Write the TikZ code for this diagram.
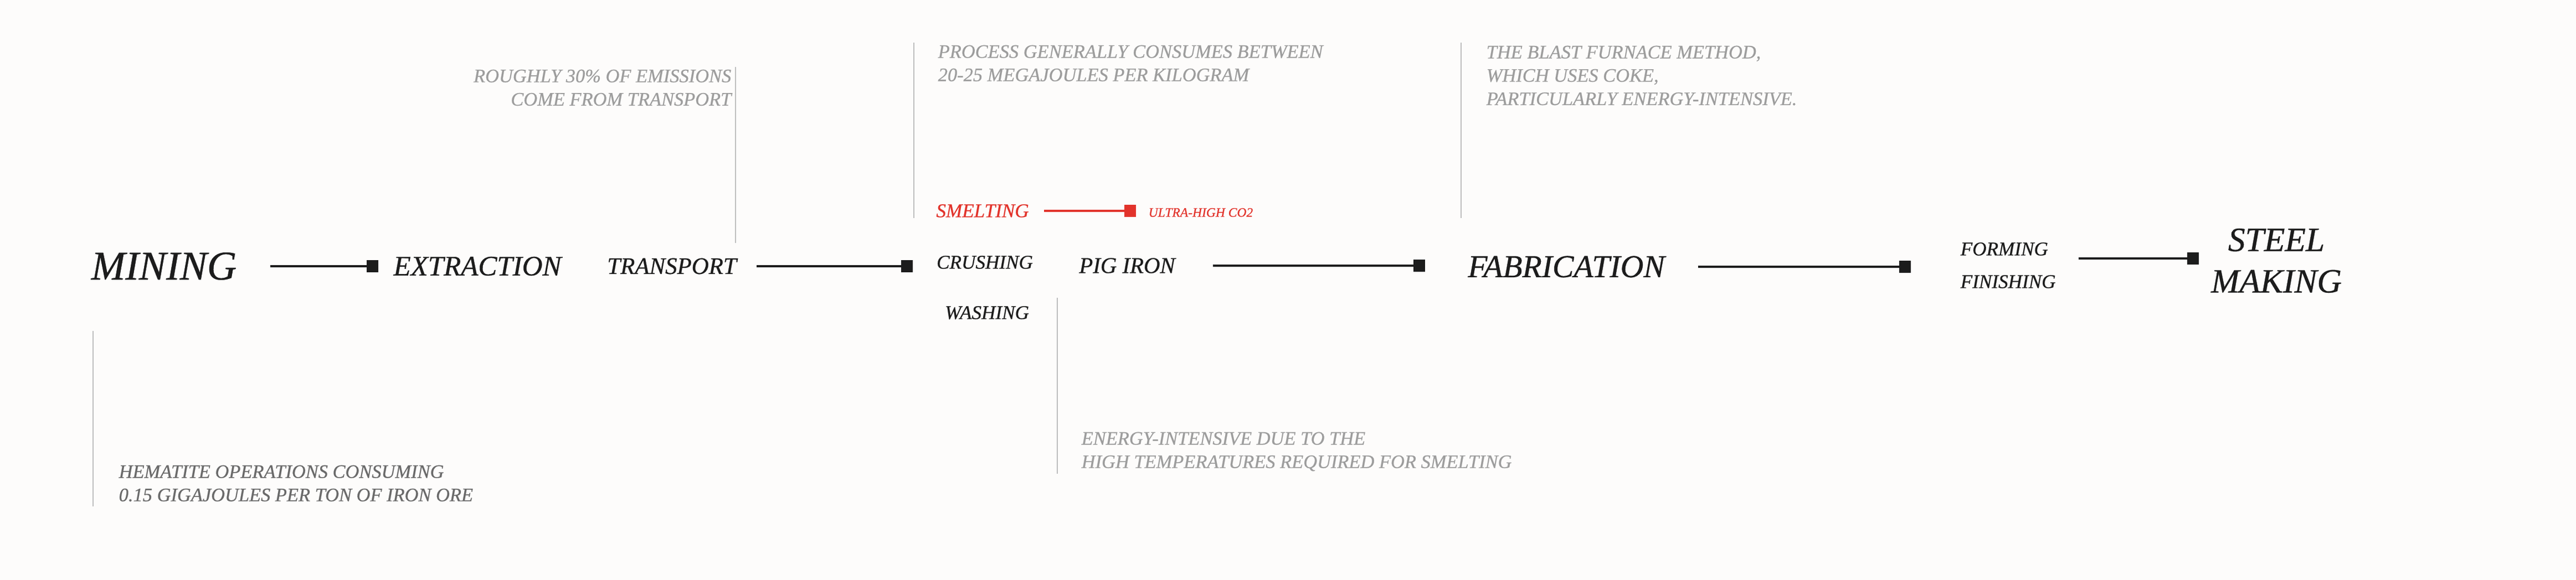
\documentclass[tikz,border=0pt]{standalone}
\usepackage{fontspec}
\setmainfont{Liberation Serif}[ItalicFeatures={FakeBold=0.6}]
\usetikzlibrary{arrows.meta,positioning,calc}
\definecolor{ink}{HTML}{1C1C1C}
\definecolor{notegray}{HTML}{9D9D9D}
\definecolor{darknote}{HTML}{6A6A6A}
\definecolor{leadgray}{HTML}{BDBDBD}
\definecolor{hotred}{HTML}{E2332B}
\definecolor{paper}{HTML}{FDFCFB}
\tikzset
{
    stage/.style = {inner sep=0pt, text=ink, font=\itshape},
    note/.style  = {inner sep=0pt, text=notegray, align=left, font=\itshape\fontsize{9.8}{12}\selectfont},
    link/.style  = {draw=ink, line width=1.2pt, -{Square[length=6pt,width=6pt]}},
    leader/.style = {draw=leadgray, line width=0.45pt}
}

\begin{document}
\begin{tikzpicture}
	\fill [paper] (0,0) rectangle (46.51,-10.48);
	\useasboundingbox (0,0) rectangle (46.51,-10.48);

	\node (mining) [stage, font=\itshape\fontsize{21}{25}\selectfont] at (2.96,-4.81) {MINING};
	\node (extraction) [stage, font=\itshape\fontsize{14.5}{17}\selectfont] at (8.62,-4.81) {EXTRACTION};
	\node (transport) [stage, font=\itshape\fontsize{12.2}{15}\selectfont] at (12.13,-4.81) {TRANSPORT};
	\node (crushing) [stage, font=\itshape\fontsize{10}{12}\selectfont] at (17.78,-4.74) {CRUSHING};
	\node (washing) [stage, font=\itshape\fontsize{10}{12}\selectfont, below=0.66cm of crushing.south, xshift=0.04cm] {WASHING};
	\node (smelting) [stage, text=hotred, font=\itshape\fontsize{10}{12}\selectfont] at (17.74,-3.81) {SMELTING};
	\node (ultra) [stage, text=hotred, font=\itshape\fontsize{6.7}{8}\selectfont, anchor=west] at (20.73,-3.84) {ULTRA-HIGH CO2};
	\node (pigiron) [stage, font=\itshape\fontsize{11.6}{14}\selectfont] at (20.35,-4.80) {PIG IRON};
	\node (fabrication) [stage, font=\itshape\fontsize{16.4}{20}\selectfont] at (28.28,-4.82) {FABRICATION};
	\node (forming) [stage, font=\itshape\fontsize{10}{12}\selectfont, anchor=west] at (35.39,-4.50) {FORMING};
	\node (finishing) [stage, font=\itshape\fontsize{10}{12}\selectfont, anchor=west] at (35.39,-5.09) {FINISHING};
	\node (steel) [stage, align=center, font=\itshape\fontsize{17.5}{21.3}\selectfont] at (41.10,-4.71) {STEEL\\MAKING};

	% notes
	\node (roughly) [note, align=right, anchor=north east] at (13.21,-1.25) {ROUGHLY 30\% OF EMISSIONS\\COME FROM TRANSPORT};
	\node (process) [note, anchor=north west] at (16.93,-0.81) {PROCESS GENERALLY CONSUMES BETWEEN\\20-25 MEGAJOULES PER KILOGRAM};
	\node (blast) [note, anchor=north west] at (26.83,-0.82) {THE BLAST FURNACE METHOD,\\WHICH USES COKE,\\PARTICULARLY ENERGY-INTENSIVE.};
	\node (hematite) [note, text=darknote, anchor=north west] at (2.14,-8.40) {HEMATITE OPERATIONS CONSUMING\\0.15 GIGAJOULES PER TON OF IRON ORE};
	\node (energy) [note, anchor=north west] at (19.52,-7.80) {ENERGY-INTENSIVE DUE TO THE\\HIGH TEMPERATURES REQUIRED FOR SMELTING};

	\draw [link] ([xshift=0.60cm]mining.east) -- ($(extraction.west |- mining.east)+(-0.27,0)$);
	\draw [link] ([xshift=0.36cm]transport.east) -- ($(crushing.west |- transport.east)+(-0.42,0)$);
	\draw [link] ([xshift=0.68cm]pigiron.east) -- ($(fabrication.west |- pigiron.east)+(-0.77,0)$);
	\draw [link] ([xshift=0.60cm]fabrication.east) -- ($(forming.west |- fabrication.east)+(-0.89,0)$);
	\draw [link] ($(finishing.east |- steel.west)+(0.41,0.04)$) -- ($(steel.west)+(-0.21,0.04)$);
	\draw [link, draw=hotred] ([xshift=0.27cm]smelting.east) -- ($(ultra.west |- smelting.east)+(-0.22,0)$);

	\draw [leader] ($(roughly.north east)+(0.07,0.04)$) -- ++(0,-3.18);
	\draw [leader] ($(process.north west)+(-0.43,0.04)$) -- ++(0,-3.17);
	\draw [leader] ($(blast.north west)+(-0.45,0.05)$) -- ++(0,-3.17);
	\draw [leader] ($(hematite.north west)+(-0.46,2.42)$) -- ++(0,-3.17);
	\draw [leader] ($(energy.north west)+(-0.43,2.42)$) -- ++(0,-3.18);
	\end{tikzpicture}
\end{document}
